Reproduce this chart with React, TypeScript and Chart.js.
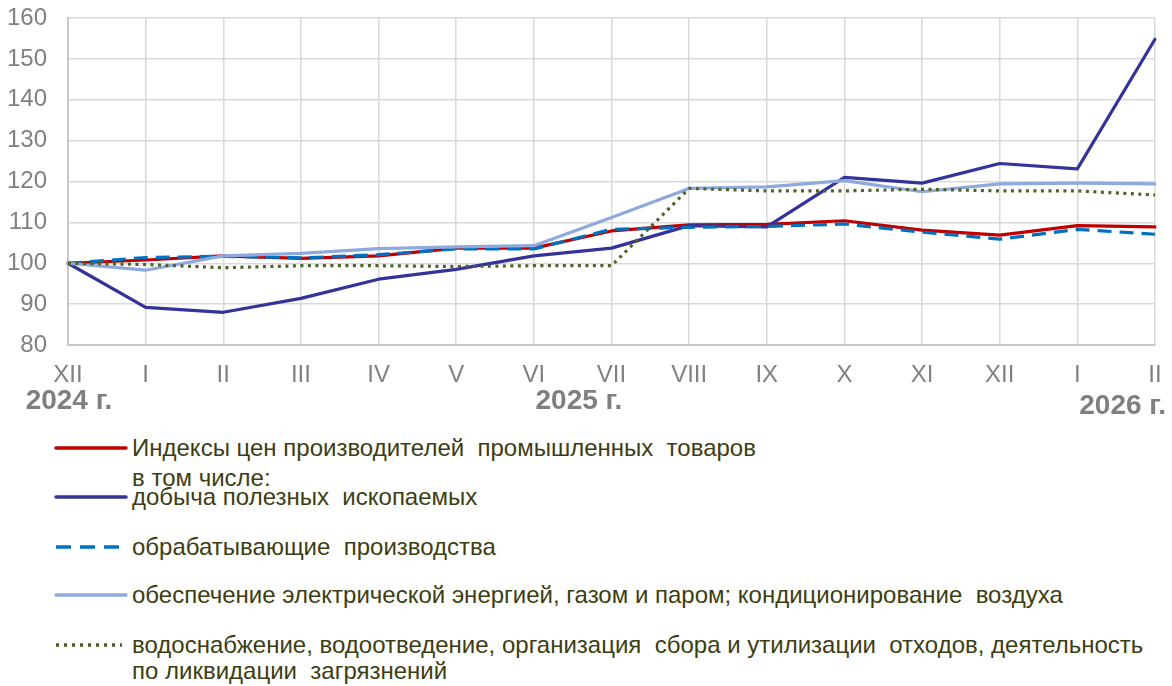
import React, { useEffect, useRef } from "react";
import { Chart, registerables } from "chart.js";

Chart.register(...registerables);

// ---------- data ----------
const categories = ["XII", "I", "II", "III", "IV", "V", "VI", "VII", "VIII", "IX", "X", "XI", "XII", "I", "II"];
const yearLabels = ["2024 г.", "2025 г.", "2026 г."];
const yMin = 80;
const yMax = 160;
const yStep = 10;

const seriesNames = [
  "Индексы цен производителей  промышленных  товаров",
  "добыча полезных  ископаемых",
  "обрабатывающие  производства",
  "обеспечение электрической энергией, газом и паром; кондиционирование  воздуха",
  "водоснабжение, водоотведение, организация  сбора и утилизации  отходов, деятельность",
];
const subHeader = "в том числе:";
const lastLine = "по ликвидации  загрязнений";

const industrialPrices = [100, 100.8, 101.8, 101.2, 101.8, 103.7, 103.7, 107.9, 109.4, 109.5, 110.4, 108.1, 106.9, 109.2, 108.9];
const mining = [100, 89.2, 88.0, 91.4, 96.1, 98.5, 101.8, 103.7, 109.2, 108.9, 121.0, 119.6, 124.4, 123.1, 154.8];
const manufacturing = [100, 101.4, 101.7, 101.3, 102.1, 103.5, 103.5, 108.3, 108.8, 109.0, 109.6, 107.6, 105.9, 108.3, 107.1];
const electricity = [100, 98.3, 101.8, 102.4, 103.6, 104.0, 104.3, 111.2, 118.3, 118.7, 120.2, 117.5, 119.4, 119.6, 119.4];
const water = [100, 99.7, 98.9, 99.4, 99.4, 99.2, 99.4, 99.4, 118.3, 117.7, 117.7, 118.1, 117.7, 117.7, 116.7];

// ---------- styles ----------
const RED = "#c00000";
const DARK_BLUE = "#333399";
const BLUE = "#0070c0";
const LIGHT_BLUE = "#8ea9db";
const GREEN = "#4f6228";
const TICK_COLOR = "#808080";
const GRID_COLOR = "#d9d9d9";
const LEGEND_TEXT = "#3d3d12";
const FONT = '"Liberation Sans", Arial, sans-serif';

const CANVAS_W = 1172;
const CANVAS_H = 420;

const yearPlugin = {
  id: "yearLabels",
  afterDraw(chart: any) {
    const { ctx } = chart;
    const x = chart.scales.x;
    ctx.save();
    ctx.font = `bold 28px ${FONT}`;
    ctx.fillStyle = "#7f7f7f";
    ctx.textBaseline = "alphabetic";
    ctx.textAlign = "center";
    const p0 = x.getPixelForValue(0);
    const p6 = x.getPixelForValue(6);
    const p7 = x.getPixelForValue(7);
    ctx.fillText(yearLabels[0], p0 + 1, 409);
    ctx.fillText(yearLabels[1], p6 + (p7 - p6) * 0.58, 409);
    ctx.textAlign = "right";
    ctx.fillText(yearLabels[2], CANVAS_W - 6, 414);
    ctx.restore();
  },
};

function LegendSample({ kind, color }: { kind: string; color: string }) {
  let dash: string | undefined;
  let cap: "round" | "butt" = "round";
  let x2 = 126;
  if (kind === "dashed") {
    dash = "15 9";
    cap = "butt";
  } else if (kind === "dotted") {
    dash = "3 5";
    cap = "butt";
    x2 = 122;
  }
  return (
    <svg width={130} height={10} style={{ position: "absolute", left: 0, top: 0 }}>
      <line x1={56} y1={5} x2={x2} y2={5} stroke={color} strokeWidth={3.4} strokeDasharray={dash} strokeLinecap={cap} />
    </svg>
  );
}

function Row({ y, text, sample, color }: { y: number; text: string; sample?: string; color?: string }) {
  return (
    <>
      {sample ? (
        <div style={{ position: "absolute", left: 0, top: y - 5, width: 130, height: 10 }}>
          <LegendSample kind={sample} color={color as string} />
        </div>
      ) : null}
      <div
        style={{
          position: "absolute",
          left: 132,
          top: y - 14,
          height: 28,
          lineHeight: "28px",
          fontFamily: FONT,
          fontSize: 24,
          color: LEGEND_TEXT,
          whiteSpace: "pre",
        }}
      >
        {text}
      </div>
    </>
  );
}

export default function App() {
  const canvasRef = useRef<HTMLCanvasElement | null>(null);

  useEffect(() => {
    const canvas = canvasRef.current;
    if (!canvas) return;
    const mk = (label: string, data: number[], color: string, order: number, dash: number[] = [], cap: any = "round") => ({
      label,
      data,
      borderColor: color,
      backgroundColor: color,
      borderWidth: 3.2,
      borderDash: dash,
      borderCapStyle: cap,
      borderJoinStyle: "round" as const,
      pointRadius: 0,
      tension: 0,
      fill: false,
      order,
    });
    const chart = new Chart(canvas, {
      type: "line",
      data: {
        labels: categories,
        datasets: [
          mk(seriesNames[0], industrialPrices, RED, 4),
          mk(seriesNames[1], mining, DARK_BLUE, 3),
          mk(seriesNames[2], manufacturing, BLUE, 2, [14, 8], "butt"),
          mk(seriesNames[3], electricity, LIGHT_BLUE, 1),
          mk(seriesNames[4], water, GREEN, 0, [3, 4.5], "butt"),
        ],
      },
      options: {
        responsive: false,
        animation: false,
        layout: { autoPadding: false, padding: { top: 18, right: 17, left: 0, bottom: 0 } },
        plugins: { legend: { display: false }, tooltip: { enabled: false } },
        scales: {
          x: {
            offset: false,
            grid: { color: GRID_COLOR, lineWidth: 1.5, drawTicks: false },
            border: { color: "#c8c8c8", width: 2 },
            ticks: {
              color: TICK_COLOR,
              font: { family: FONT, size: 24 },
              padding: 16,
              maxRotation: 0,
              autoSkip: false,
            },
            afterFit(scale: any) {
              scale.height = CANVAS_H - 345;
              scale.paddingLeft = 0;
              scale.paddingRight = 0;
            },
          },
          y: {
            min: yMin,
            max: yMax,
            grid: { color: GRID_COLOR, lineWidth: 1.5, drawTicks: false },
            border: { color: "#c8c8c8", width: 2 },
            ticks: {
              stepSize: yStep,
              color: TICK_COLOR,
              font: { family: FONT, size: 24 },
              padding: 21,
            },
            afterFit(scale: any) {
              scale.width = 68;
              scale.paddingTop = 0;
              scale.paddingBottom = 0;
            },
          },
        },
      },
      plugins: [yearPlugin],
    });
    return () => chart.destroy();
  }, []);

  return (
    <div style={{ position: "absolute", left: 0, top: 0, width: CANVAS_W, height: 686, background: "#fff" }}>
      <canvas ref={canvasRef} width={CANVAS_W} height={CANVAS_H} style={{ position: "absolute", left: 0, top: 0 }} />
      <Row y={448} text={seriesNames[0]} sample="solid" color={RED} />
      <Row y={478} text={subHeader} />
      <Row y={497} text={seriesNames[1]} sample="solid" color={DARK_BLUE} />
      <Row y={547} text={seriesNames[2]} sample="dashed" color={BLUE} />
      <Row y={595} text={seriesNames[3]} sample="solid" color={LIGHT_BLUE} />
      <Row y={645} text={seriesNames[4]} sample="dotted" color={GREEN} />
      <Row y={671} text={lastLine} />
    </div>
  );
}
